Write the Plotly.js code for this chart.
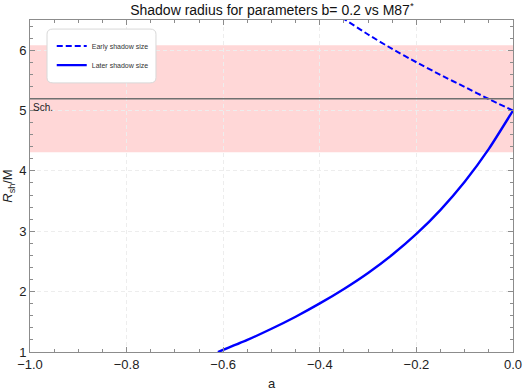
<!DOCTYPE html>
<html>
<head>
<meta charset="utf-8">
<script src="https://cdn.plot.ly/plotly-3.0.1.min.js"></script>
<style>html,body{margin:0;padding:0;background:#fff;}#chart{width:523px;height:392px;}</style>
</head>
<body>
<div id="chart"></div>
<script>
// Early shadow size (dashed)
const earlyA = [0, -0.05, -0.10, -0.15, -0.20, -0.25, -0.30, -0.35, -0.36];
const earlyR = [5.0, 5.19, 5.39, 5.59, 5.80, 6.02, 6.26, 6.52, 6.58];
// Later shadow size (solid)
const laterA = [-0.611, -0.55, -0.50, -0.45, -0.40, -0.35, -0.30, -0.25, -0.20, -0.15, -0.10, -0.05, 0];
const laterR = [1.0, 1.20, 1.385, 1.585, 1.805, 2.045, 2.31, 2.61, 2.955, 3.355, 3.82, 4.365, 5.0];
// M87* band and Schwarzschild value
const bandLow = 4.31, bandHigh = 6.08;
const schR = 5.196;
const xTicks = [-1.0, -0.8, -0.6, -0.4, -0.2, 0.0];
const xTickText = ["\u22121.0", "\u22120.8", "\u22120.6", "\u22120.4", "\u22120.2", "0.0"];
const yTicks = [1, 2, 3, 4, 5, 6];

const font = "Liberation Sans, Arial, sans-serif";
const traces = [
  {x: earlyA, y: earlyR, mode: "lines", name: "Early shadow size",
   line: {color: "#0000ff", width: 2, dash: "6px,3px", shape: "spline", smoothing: 0.6}},
  {x: laterA, y: laterR, mode: "lines", name: "Later shadow size",
   line: {color: "#0000ff", width: 2.4, shape: "spline", smoothing: 0.6}}
];
const axisCommon = {
  showline: true, linecolor: "#8c8c8c", linewidth: 1, mirror: "ticks",
  ticks: "inside", ticklen: 5, tickcolor: "#8c8c8c",
  showgrid: true, gridcolor: "#ededed", griddash: "4px,3px", gridwidth: 1,
  zeroline: false, tickfont: {family: font, size: 13, color: "#222"}
};
const layout = {
  width: 523, height: 392,
  margin: {l: 30, r: 10, t: 20, b: 40},
  paper_bgcolor: "#fff", plot_bgcolor: "#fff",
  font: {family: font},
  title: {text: "Shadow radius for parameters b= 0.2 vs M87<sup>*</sup>", x: 0.52, xanchor: "center", y: 0.975, yanchor: "middle",
          font: {family: font, size: 14, color: "#111"}},
  xaxis: Object.assign({}, axisCommon, {
    range: [-1, 0], tickvals: xTicks, ticktext: xTickText,
    minor: {dtick: 0.05, ticks: "inside", ticklen: 3, tickcolor: "#8c8c8c", showgrid: false},
    title: {text: "a", font: {family: font, size: 13, color: "#222"}, standoff: 8}
  }),
  yaxis: Object.assign({}, axisCommon, {
    range: [1, 6.5], tickvals: yTicks,
    minor: {dtick: 0.2, ticks: "inside", ticklen: 3, tickcolor: "#8c8c8c", showgrid: false},
    title: {text: "<i>R</i><sub>sh</sub>/M", font: {family: font, size: 13, color: "#222"}, standoff: 8}
  }),
  shapes: [
    {type: "rect", xref: "paper", yref: "y", x0: 0, x1: 1, y0: bandLow, y1: bandHigh,
     fillcolor: "#ffd7d7", line: {width: 0}, layer: "below"},
    {type: "line", xref: "paper", yref: "y", x0: 0, x1: 1, y0: schR, y1: schR,
     line: {color: "#707070", width: 1.5}, layer: "above"},
    {type: "path", xref: "paper", yref: "paper",
     path: "M 0.0476,0.9727 L 0.2485,0.9727 Q 0.2608,0.9727 0.2608,0.9572 L 0.2608,0.8260 Q 0.2608,0.8106 0.2485,0.8106 L 0.0476,0.8106 Q 0.0352,0.8106 0.0352,0.8260 L 0.0352,0.9572 Q 0.0352,0.9727 0.0476,0.9727 Z",
     fillcolor: "#ffffff", line: {color: "#d8d8d8", width: 1}, layer: "above"}
  ],
  annotations: [
    {xref: "paper", yref: "y", x: 0.002, y: schR, text: "Sch.", showarrow: false,
     xanchor: "left", yanchor: "top", yshift: -1, font: {family: font, size: 10, color: "#222"}}
  ],
  showlegend: true,
  legend: {x: 0.045, y: 0.965, xanchor: "left", yanchor: "top", bgcolor: "rgba(0,0,0,0)",
           borderwidth: 0, font: {family: font, size: 7, color: "#333"}, itemwidth: 30,
           tracegroupgap: 4}
};
Plotly.newPlot("chart", traces, layout, {displayModeBar: false, staticPlot: true});
</script>
</body>
</html>
